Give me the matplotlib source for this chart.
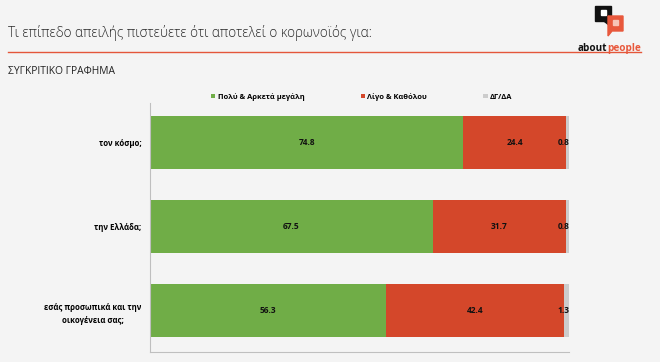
import matplotlib
matplotlib.use("Agg")
import matplotlib.pyplot as plt
from matplotlib.patches import Rectangle, Polygon

# data
categories = ["τον κόσμο;", "την Ελλάδα;", "εσάς προσωπικά και την\nοικογένεια σας;"]
series_names = ["Πολύ & Αρκετά μεγάλη", "Λίγο & Καθόλου", "ΔΓ/ΔΑ"]
high = [74.8, 67.5, 56.3]
low = [24.4, 31.7, 42.4]
dkna = [0.8, 0.8, 1.3]
colors = ["#70ad47", "#d4472a", "#cccccc"]

bg = "#f4f4f4"
plt.rcParams['font.family'] = ['Open Sans', 'DejaVu Sans']

W, H = 660, 362
fig = plt.figure(figsize=(W / 100, H / 100), dpi=100, facecolor=bg)

def px(x, y):
    # pixel coords (top-left origin) -> figure fraction
    return x / W, 1 - y / H

# axes area
ax = fig.add_axes([150 / W, 1 - 352 / H, 419 / W, 249 / H], facecolor=bg)
ypos = list(range(len(categories)))
bh = 0.63
left = [0, 0, 0]
for vals, col, name in zip([high, low, dkna], colors, series_names):
    ax.barh(ypos, vals, left=left, height=bh, color=col, label=name)
    left = [l + v for l, v in zip(left, vals)]

# value labels
for i in ypos:
    ax.text(high[i] / 2, i, f"{high[i]:.1f}", ha="center", va="center",
            fontsize=6, fontweight="bold", color="#111111")
    ax.text(high[i] + low[i] / 2, i, f"{low[i]:.1f}", ha="center", va="center",
            fontsize=6, fontweight="bold", color="#111111")
    ax.text(high[i] + low[i] + dkna[i], i, f"{dkna[i]:.1f}", ha="right", va="center",
            fontsize=6, fontweight="bold", color="#111111")

ax.set_xlim(0, 100)
ax.set_ylim(2.494, -0.47)
ax.set_yticks(ypos)
ax.set_yticklabels(categories, fontsize=5.6, fontweight="bold", multialignment="center",
                   linespacing=1.6)
ax.tick_params(axis="y", length=0, pad=6)
ax.set_xticks([])
for s in ["top", "right"]:
    ax.spines[s].set_visible(False)
ax.spines["left"].set_color("#bfbfbf")
ax.spines["bottom"].set_color("#bfbfbf")
ax.spines["left"].set_linewidth(0.8)
ax.spines["bottom"].set_linewidth(0.8)

ax.legend(loc="center", bbox_to_anchor=(0.505, 1.025), ncol=3, frameon=False,
          handlelength=0.6, handleheight=0.6, handletextpad=0.3, columnspacing=7.5,
          prop={"size": 5.4, "weight": "bold"})

# title block
fig.text(*px(8, 33), "Τι επίπεδο απειλής πιστεύετε ότι αποτελεί ο κορωνοϊός για:",
         fontsize=9.8, fontweight="light", color="#2a2a2a", va="center", ha="left")
fig.add_artist(plt.Line2D([8 / W, 641 / W], [1 - 52 / H, 1 - 52 / H],
                          color="#e4563a", linewidth=1.0))
fig.text(*px(8, 71), "ΣΥΓΚΡΙΤΙΚΟ ΓΡΑΦΗΜΑ", fontsize=7.4, color="#222222",
         va="center", ha="left")

# logo
tf = fig.transFigure
fig.add_artist(Rectangle(px(595, 21), 16 / W, 15 / H, transform=tf, color="#111111"))
fig.add_artist(Rectangle(px(601, 15), 5 / W, 5 / H, transform=tf, color="white"))
fig.add_artist(Polygon([px(604, 21), px(609, 21), px(609, 25)], transform=tf, color="#111111"))
fig.add_artist(Polygon([px(608, 16), px(623, 16), px(623, 31), px(612, 31), px(608, 36)],
                       transform=tf, color="#e8583c"))
fig.add_artist(Rectangle(px(613, 25), 5 / W, 5 / H, transform=tf, color="#f7c4b6"))
fig.text(*px(607.5, 51), "about", fontsize=7.2, fontweight="bold", color="#111111",
         va="baseline", ha="right")
fig.text(*px(607.5, 51), "people", fontsize=7.2, fontweight="bold", color="#e8583c",
         va="baseline", ha="left")

fig.savefig("out.png", dpi=100, facecolor=bg)
